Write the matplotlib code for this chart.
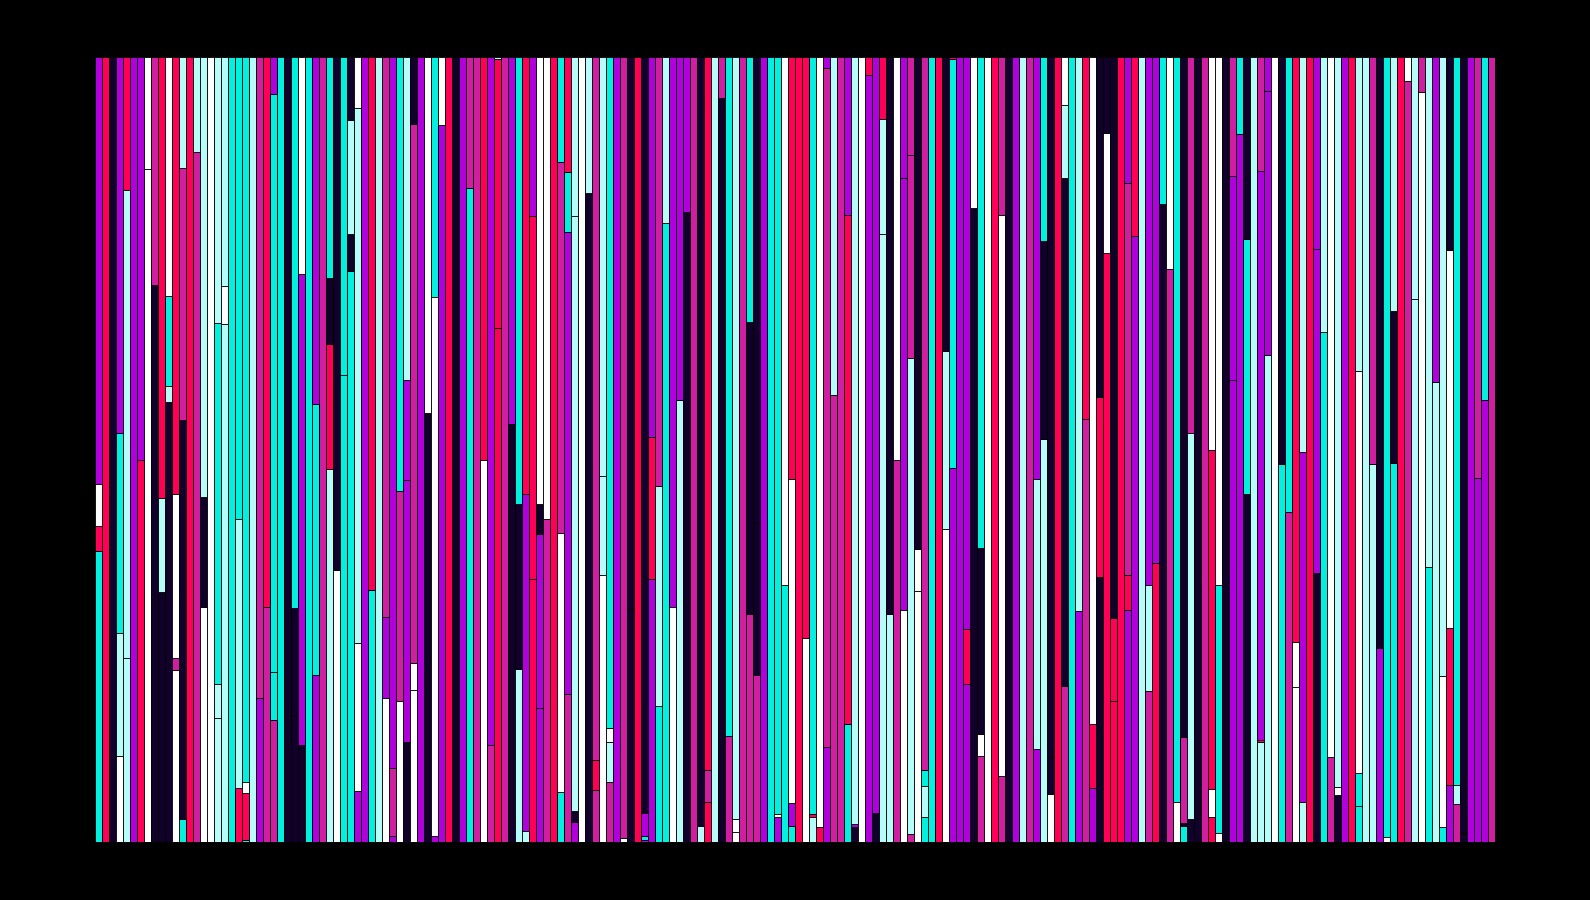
import matplotlib
matplotlib.use("Agg")
import matplotlib.pyplot as plt

# colour codes used in the segment strings below
palette = {
    "P": "#b000dc",   # purple
    "R": "#ff0056",   # hot pink
    "M": "#d01ea0",   # magenta
    "W": "#ffffff",   # white
    "L": "#b6fcf9",   # light cyan
    "C": "#03f0de",   # cyan
    "D": "#10002a",   # dark navy
}

# each bar: segments from bottom to top, "<colour><percent>"
bars_000 = [
    "C37.1 R3.1 W5.4 P54.4", "R100", "D100", "W11.0 L15.6 C25.5 P47.9",
    "L23.5 L59.5 R17.0", "P100", "R48.6 P51.4", "W85.7 W14.3", "D71.0 M29.0",
    "D31.9 L11.9 R56.2", "D56.1 L2.0 C11.5 W30.4", "W21.9 M1.5 W20.9 R55.7",
    "C2.9 D50.8 M32.2 L14.1", "R100", "M87.9 L12.1", "W30.0 D13.9 L56.1",
    "W100", "L15.8 L4.3 C46.0 L33.9", "L66.0 W4.8 L29.2", "C100",
    "R6.9 L34.3 C58.8", "C0.3 R6.0 W1.4 C92.3", "L100", "P18.4 M81.6",
    "M30.0 R70.0",
]
bars_025 = [
    "M15.5 C6.2 C73.6 P4.7", "C100", "D100", "D16.1 D13.7 C70.2",
    "D12.3 P60.0 W27.7", "C100", "P21.3 C34.5 P44.2", "M100",
    "L47.5 R15.9 D8.5 C28.1", "W34.7 D65.3", "C59.5 C40.5",
    "C72.8 D4.7 L14.5 D8.0", "P6.5 W18.8 L68.2 W6.5", "P100", "C32.1 R67.9",
    "L100", "W18.3 P10.4 M71.3", "P0.8 M8.6 P90.6", "W18.0 M26.7 C55.3",
    "D12.8 P33.3 P12.7 L41.2", "W19.4 W3.4 M68.7 D8.5", "P100",
    "D54.7 W45.3", "P0.8 W68.6 C30.6", "P91.3 W8.7",
]
bars_050 = [
    "R100", "D100", "P100", "C83.3 M16.7", "M100", "W48.7 R51.3",
    "M12.4 P87.6", "R65.5 R34.2 L0.3", "M100", "D53.2 P46.8",
    "L22.1 D21.0 C56.9", "L1.4 P42.9 R55.7", "R33.5 R46.2 P20.3",
    "P17.1 P22.1 D3.8 W57.0", "M41.2 W58.8", "R100", "C6.4 W33.0 M47.2 C13.4",
    "M18.9 P58.8 C7.7 R14.6", "P2.6 D1.3 L75.8 L20.3", "W100", "D82.7 L17.3",
    "M6.6 R3.9 M89.5", "W34.0 L12.6 L53.4", "M7.7 L5.1 W1.7 C85.5", "P100",
]
bars_075 = [
    "W0.5 M99.5", "D29.7 D70.3", "R100", "P0.3 C0.5 P2.9 D96.3",
    "P33.5 R18.1 P48.4", "C17.3 L28.0 M54.7", "C78.9 L21.1", "W30.0 P70.0",
    "L56.3 P43.7", "D80.2 P19.8", "M100", "L2.1 D97.9", "R5.1 M4.1 R90.8",
    "L100", "D94.8 M5.2", "M13.5 C86.5", "W1.3 W1.6 L97.1", "M100",
    "M29.0 D37.2 C33.8", "M21.3 D19.3 D59.4", "P100", "C100",
    "P3.2 W0.4 C96.4", "C32.8 W67.2", "C2.1 P2.9 W41.3 R53.7",
]
bars_100 = [
    "R100", "W26.0 R74.0", "L3.2 R0.4 C96.4", "R1.9 W98.1",
    "P12.1 M86.5 P1.4", "M57.0 L43.0", "M100", "C15.0 R64.9 P20.1",
    "D1.9 P0.4 L97.7", "W100", "P97.7 R2.3", "D3.7 P96.3",
    "L77.5 L14.6 R7.9", "L29.0 D71.0", "M48.6 W51.4", "W29.5 P55.1 P15.4",
    "M1.0 L60.6 M25.9 M12.5", "W32.0 W5.3 D62.7", "C3.2 L3.9 C2.1 M90.8",
    "C100", "R100", "W39.9 L22.7 D37.4", "P47.7 C52.0 R0.3", "P100",
    "P20.1 R7.0 P72.9",
]
bars_125 = [
    "D80.8 W19.2", "M11.0 W2.7 D23.7 C62.6", "W100", "R100",
    "M8.4 W71.5 M20.1", "D100", "P100", "L100", "M100", "P11.9 L34.3 P53.8",
    "L51.4 D25.2 C23.4", "W6.1 D4.7 D89.2", "R100", "M19.9 D64.7 L9.3 W6.1",
    "C100", "P29.4 L70.6", "M53.9 R46.1", "P6.9 R8.1 W85.0",
    "D33.7 R23.0 D43.3", "R75.0 W15.3 D9.7", "R18.0 R10.5 D71.5", "R100",
    "P29.5 R4.5 M49.9 P16.1", "P77.2 R22.8", "L100",
]
bars_150 = [
    "M19.2 L13.5 P67.3", "R35.5 P64.5", "D81.3 C18.7", "M73.0 W27.0",
    "W5.1 C94.9", "C2.1 D0.3 M11.0 D86.6", "D2.9 L49.2 M47.9", "D100", "M100",
    "R3.2 W3.6 R43.1 W50.1", "W1.1 C31.6 W67.3", "D100", "P58.8 P26.0 M15.2",
    "P90.2 C9.8", "D44.3 C32.5 D23.2", "L100", "L12.8 R0.2 P72.5 M14.5",
    "L62.0 P33.7 P4.3", "W100", "C48.2 D51.8", "M42.1 C57.9",
    "W19.7 W5.8 R74.5", "L5.1 P44.6 L50.3", "R100", "D34.3 P41.2 P24.5",
]
bars_175 = [
    "C65.0 L35.0", "M10.8 W89.2", "D6.0 W1.0 L93.0", "P100", "R100",
    "C4.6 C4.2 W51.2 L40.0", "L100", "L48.1 M51.9", "P24.7 D75.3",
    "W0.6 C99.4", "C48.3 D19.4 L32.3", "R100", "M96.9 W3.1", "L69.2 L30.8",
    "W95.5 M4.5", "C35.0 L65.0", "L58.6 P41.4", "C1.9 W19.3 L78.8",
    "P7.3 R19.9 W48.2 D24.6", "M4.9 L2.3 C92.8", "D1.0 R0.2 D98.8", "P100",
    "P46.4 M53.6", "P56.3 C43.7", "M100",
]

all_bars = bars_000 + bars_025 + bars_050 + bars_075 + bars_100 + bars_125 + bars_150 + bars_175

xs, heights, bottoms, colors = [], [], [], []
for i, spec in enumerate(all_bars):
    segs = [(s[0], float(s[1:])) for s in spec.split()]
    total = sum(v for _, v in segs)
    bottom = 0.0
    for code, v in segs:
        h = v / total * 100
        xs.append(i)
        heights.append(h)
        bottoms.append(bottom)
        colors.append(palette[code])
        bottom += h

fig = plt.figure(figsize=(15.9, 9), dpi=100, facecolor='black')
ax = fig.add_axes([95 / 1590, 58 / 900, 1400 / 1590, 785 / 900])
ax.set_facecolor('black')

ax.bar(xs, heights, bottom=bottoms, width=1.0, color=colors,
       edgecolor='black', linewidth=0.6)

ax.set_xlim(-0.5, len(all_bars) - 0.5)
ax.set_ylim(0, 100)
ax.axis('off')

fig.savefig('out.png', dpi=100, facecolor='black')
